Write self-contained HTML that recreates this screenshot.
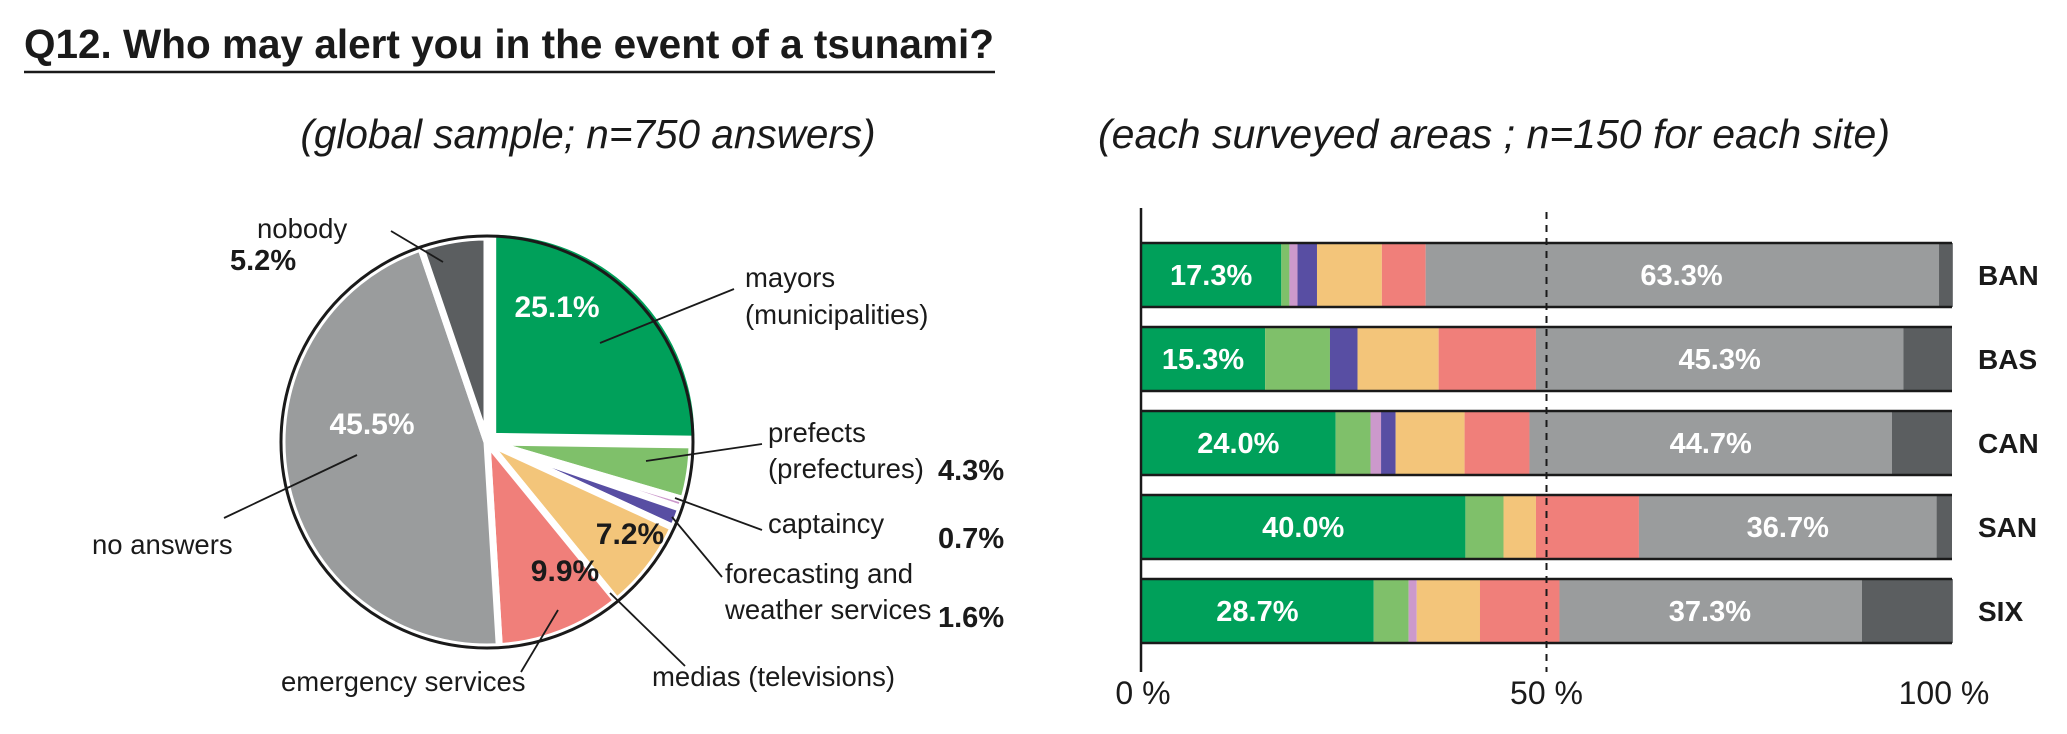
<!DOCTYPE html>
<html><head><meta charset="utf-8"><style>
html,body{margin:0;padding:0;background:#fff;}
svg{display:block;font-family:"Liberation Sans",Arial,sans-serif;}
</style></head><body>
<svg id="chart" width="2067" height="734" viewBox="0 0 2067 734">
<text x="24" y="58" font-size="40.5" font-weight="bold" fill="#1a1a1a">Q12. Who may alert you in the event of a tsunami?</text>
<line x1="24" y1="72" x2="995" y2="72" stroke="#1a1a1a" stroke-width="2.5"/>
<text x="588" y="148" font-size="40.5" font-style="italic" text-anchor="middle" fill="#1a1a1a">(global sample; n=750 answers)</text>
<text x="1494" y="148" font-size="41" font-style="italic" text-anchor="middle" fill="#1a1a1a">(each surveyed areas ; n=150 for each site)</text>
<g id="pie"></g>
<g id="pielabels">
<g stroke="#1a1a1a" stroke-width="1.8">
<line x1="391" y1="231" x2="443" y2="262"/>
<line x1="600" y1="343" x2="734" y2="289"/>
<line x1="646" y1="461" x2="762" y2="444"/>
<line x1="675" y1="498" x2="762" y2="530"/>
<line x1="672" y1="517" x2="722" y2="577"/>
<line x1="610" y1="593" x2="685" y2="666"/>
<line x1="558" y1="610" x2="521" y2="672"/>
<line x1="357" y1="455" x2="224" y2="518"/>
</g>
<g font-size="27.5" fill="#1a1a1a">
<text x="257" y="238">nobody</text>
<text x="745" y="287">mayors</text>
<text x="745" y="324">(municipalities)</text>
<text x="768" y="442">prefects</text>
<text x="768" y="478">(prefectures)</text>
<text x="768" y="533">captaincy</text>
<text x="725" y="583">forecasting and</text>
<text x="725" y="619">weather services</text>
<text x="652" y="686">medias (televisions)</text>
<text x="281" y="691">emergency services</text>
<text x="92" y="554">no answers</text>
</g>
<g font-size="29" font-weight="bold" fill="#1a1a1a">
<text x="230" y="270">5.2%</text>
<text x="938" y="480">4.3%</text>
<text x="938" y="548">0.7%</text>
<text x="938" y="627">1.6%</text>
</g>
</g>
<g id="bars"></g>
</svg>
<script>
const pieCats=["mayors","prefects","captaincy","forecasting","medias","emergency","no answers","nobody"];
const pieVals=[25.1,4.3,0.7,1.6,7.2,9.9,45.5,5.2];
const pieShown=["25.1%","","","","7.2%","9.9%","45.5%",""];
const colors=["#00a05a","#7fc06a","#cc99cc","#584ea3","#f3c57a","#f07f7a","#9a9c9d","#5b5e60"];
const labelDark=[false,true,true,true,true,true,false,false];

const sites=["BAN","BAS","CAN","SAN","SIX"];
const sMayors=[17.3,15.3,24.0,40.0,28.7];
const sPrefects=[1.0,8.0,4.3,4.7,4.3];
const sCaptaincy=[1.0,0,1.3,0,1.0];
const sForecast=[2.4,3.4,1.8,0,0];
const sMedias=[8.0,10.0,8.5,4.0,7.8];
const sEmergency=[5.4,12.0,8.0,12.7,9.8];
const sNoAnswers=[63.3,45.3,44.7,36.7,37.3];
const sNobody=[1.7,6.0,7.4,1.9,11.2];
const ticks=[0,50,100];
const tickLabels=["0 %","50 %","100 %"];

const NS="http://www.w3.org/2000/svg";
function mk(t,a,p){const e=document.createElementNS(NS,t);for(const k in a)e.setAttribute(k,a[k]);p.appendChild(e);return e;}

// pie
const pie=document.getElementById("pie");
const cx=487,cy=442,R=205;
const tot=pieVals.reduce((a,b)=>a+b,0);
// label placement offsets relative to pie center (layout only)
const labDX=[70,0,0,0,143,78,-115,0];
const labDY=[-135,0,0,0,92,129,-18,0];
let ang=0;
pieVals.forEach((v,i)=>{
  const a0=ang/tot*2*Math.PI, a1=(ang+v)/tot*2*Math.PI; ang+=v;
  const am=(a0+a1)/2;
  const off=i===0?8:0;
  const ox=cx+off*Math.sin(am), oy=cy-off*Math.cos(am);
  const x0=ox+R*Math.sin(a0),y0=oy-R*Math.cos(a0),x1=ox+R*Math.sin(a1),y1=oy-R*Math.cos(a1);
  const p=mk("path",{d:`M${ox},${oy}L${x0},${y0}A${R},${R} 0 ${a1-a0>Math.PI?1:0} 1 ${x1},${y1}Z`,fill:colors[i],stroke:"#fff","stroke-width":7,"stroke-linejoin":"miter"},pie);
  
  
});
const outline=mk("circle",{cx:cx,cy:cy,r:R+1,fill:"none",stroke:"#1a1a1a","stroke-width":3},pie);


pieVals.forEach((v,i)=>{
  if(!pieShown[i]) return;
  const t=mk("text",{x:cx+labDX[i],y:cy+labDY[i]+10,"text-anchor":"middle","font-size":30,"font-weight":"bold",fill:labelDark[i]?"#1a1a1a":"#fff"},pie);
  t.textContent=pieShown[i];
  
  
});

// bars
const bars=document.getElementById("bars");
const X0=1141,X1=1952;
const xs=v=>X0+(X1-X0)*v/100;
const rowTop=i=>243+i*84, BH=64;
const series=[sMayors,sPrefects,sCaptaincy,sForecast,sMedias,sEmergency,sNoAnswers,sNobody];
sites.forEach((s,i)=>{
  let c=0;const y=rowTop(i);
  series.forEach((arr,k)=>{
    const v=arr[i];
    const r=mk("rect",{x:xs(c),y:y,width:Math.max(0,xs(c+v)-xs(c)),height:BH,fill:colors[k]},bars);
    
    
    c+=v;
  });
  mk("line",{x1:X0,y1:y,x2:X1,y2:y,stroke:"#1a1a1a","stroke-width":2.5},bars);
  mk("line",{x1:X0,y1:y+BH,x2:X1,y2:y+BH,stroke:"#1a1a1a","stroke-width":2.5},bars);
  const t1=mk("text",{x:xs(sMayors[i]/2),y:y+BH/2+10,"text-anchor":"middle","font-size":29,"font-weight":"bold",fill:"#fff"},bars);
  t1.textContent=sMayors[i].toFixed(1)+"%";
  
  
  const st=100-sNobody[i]-sNoAnswers[i];
  const t2=mk("text",{x:xs(st+sNoAnswers[i]/2),y:y+BH/2+10,"text-anchor":"middle","font-size":29,"font-weight":"bold",fill:"#fff"},bars);
  t2.textContent=sNoAnswers[i].toFixed(1)+"%";
  
  
  const t3=mk("text",{x:1978,y:y+BH/2+10,"font-size":28,"font-weight":"bold",fill:"#1a1a1a"},bars);
  t3.textContent=s;
  
  
});
const ax=mk("line",{x1:X0,y1:208,x2:X0,y2:672,stroke:"#1a1a1a","stroke-width":2.5},bars);


const dl=mk("line",{x1:xs(50),y1:212,x2:xs(50),y2:672,stroke:"#1a1a1a","stroke-width":2,"stroke-dasharray":"7,6"},bars);


ticks.forEach((t,i)=>{
  const tx=mk("text",{x:xs(t)-(i===2?8:(i===0?-2:0)),y:704,"text-anchor":"middle","font-size":32,fill:"#1a1a1a"},bars);
  tx.textContent=tickLabels[i];
  
  
});
</script>
</body></html>
